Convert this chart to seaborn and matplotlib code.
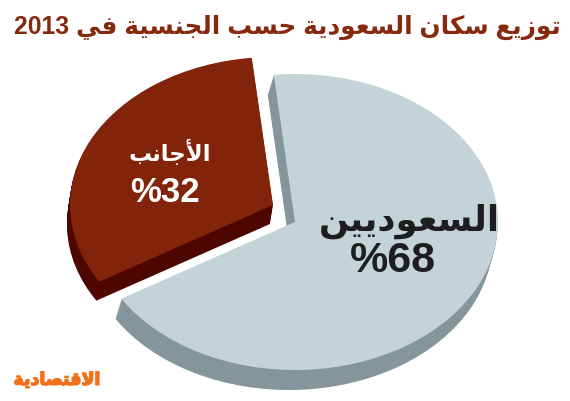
"""
plot.py
Saudi population by nationality, 2013 - extruded pie with Arabic labels.
"""

import matplotlib
matplotlib.use("Agg")
import matplotlib.patheffects as pe
import matplotlib.pyplot as plt
import seaborn as sns

shares = [32, 68]
slice_colors = ["#82240a", "#c3d3d8"]
side_colors = ["#4e0600", "#84969b"]
title_words = "توزيع سكان السعودية حسب الجنسية في"
title_year = "2013"
labels = ["الأجانب", "السعوديين"]
logo_word = "الاقتصادية"

# isolated, final, initial, medial
FORMS = {
    "ا": (0xFE8D, 0xFE8E), "أ": (0xFE83, 0xFE84), "د": (0xFEA9, 0xFEAA),
    "ز": (0xFEAF, 0xFEB0), "و": (0xFEED, 0xFEEE), "ة": (0xFE93, 0xFE94),
    "ب": (0xFE8F, 0xFE90, 0xFE91, 0xFE92), "ت": (0xFE95, 0xFE96, 0xFE97, 0xFE98),
    "ج": (0xFE9D, 0xFE9E, 0xFE9F, 0xFEA0), "ح": (0xFEA1, 0xFEA2, 0xFEA3, 0xFEA4),
    "س": (0xFEB1, 0xFEB2, 0xFEB3, 0xFEB4), "ص": (0xFEB9, 0xFEBA, 0xFEBB, 0xFEBC),
    "ع": (0xFEC9, 0xFECA, 0xFECB, 0xFECC), "ف": (0xFED1, 0xFED2, 0xFED3, 0xFED4),
    "ق": (0xFED5, 0xFED6, 0xFED7, 0xFED8), "ك": (0xFED9, 0xFEDA, 0xFEDB, 0xFEDC),
    "ل": (0xFEDD, 0xFEDE, 0xFEDF, 0xFEE0), "ن": (0xFEE5, 0xFEE6, 0xFEE7, 0xFEE8),
    "ي": (0xFEF1, 0xFEF2, 0xFEF3, 0xFEF4),
}
LAM_ALEF = {"ا": (0xFEFB, 0xFEFC), "أ": (0xFEF7, 0xFEF8)}


# matplotlib does no Arabic shaping, so pick the glyph forms by hand
def shape_word(word):
    out = []
    joined = False
    i = 0
    while i < len(word):
        ch = word[i]
        if ch == "ل" and i + 1 < len(word) and word[i + 1] in LAM_ALEF:
            out.append(chr(LAM_ALEF[word[i + 1]][1 if joined else 0]))
            joined = False
            i += 2
            continue
        forms = FORMS[ch]
        next_ok = i + 1 < len(word) and len(forms) == 4
        if joined:
            out.append(chr(forms[3] if next_ok else forms[1]))
        else:
            out.append(chr(forms[2] if next_ok else forms[0]))
        joined = next_ok
        i += 1
    return "".join(out)


def ar(text):
    return " ".join(shape_word(w)[::-1] for w in text.split()[::-1])


# ─── Pixel layout of the ellipse ───────────────────────────────────────────────
W, H = 570, 401
CX, CY = 295, 222      # centre of the light slice
RX, RY = 203, 148


def to_x(px):
    return (px - CX) / RX


def to_y(py):
    return (CY - py) / RY


sns.set_theme(style="white")
plt.rcParams["font.family"] = ["Liberation Sans", "DejaVu Sans"]

fig = plt.figure(figsize=(W / 100, H / 100), dpi=100, facecolor="white")
ax = fig.add_axes([0, 0, 1, 1])

# apex position of each slice and how far its side wall drops
apex = [(273, 205), (295, 222)]
drop = [(-3, 19), (-6, 20)]
angle0 = 96

for k in range(2):
    vals = [shares[k], 100 - shares[k]]
    start = angle0 if k == 0 else angle0 + 360 * shares[0] / 100
    steps = drop[k][1]
    for s in range(steps, -1, -1):
        px = apex[k][0] + drop[k][0] * s / steps
        py = apex[k][1] + s
        wedges, _ = ax.pie(vals, startangle=start, radius=1,
                           center=(to_x(px), to_y(py)),
                           colors=[side_colors[k] if s else slice_colors[k], "none"],
                           wedgeprops={"linewidth": 0}, frame=True)

ax.set_aspect("auto")
ax.set_xlim(to_x(0), to_x(W))
ax.set_ylim(to_y(H), to_y(0))
ax.axis("off")


def put(px, py, text, **kw):
    return ax.text(to_x(px), to_y(py), text, ha="center", va="center", fontweight="bold", **kw)


put(287, 27, title_year + " " + ar(title_words), fontsize=17.8, color="#85290f")
put(170, 153, ar(labels[0]), fontsize=16.5, color="white")
put(165, 193, f"%{shares[0]}", fontsize=25, color="white")
put(409, 221, ar(labels[1]), fontsize=25.5, color="#1e1e1e")
put(393, 261, f"%{shares[1]}", fontsize=31, color="#1e1e1e")
logo = put(57, 380, ar(logo_word), fontsize=12.5, color="#f2701b")
logo.set_path_effects([pe.withStroke(linewidth=1, foreground="#f2701b")])

fig.savefig("out.png", dpi=100, facecolor="white")
